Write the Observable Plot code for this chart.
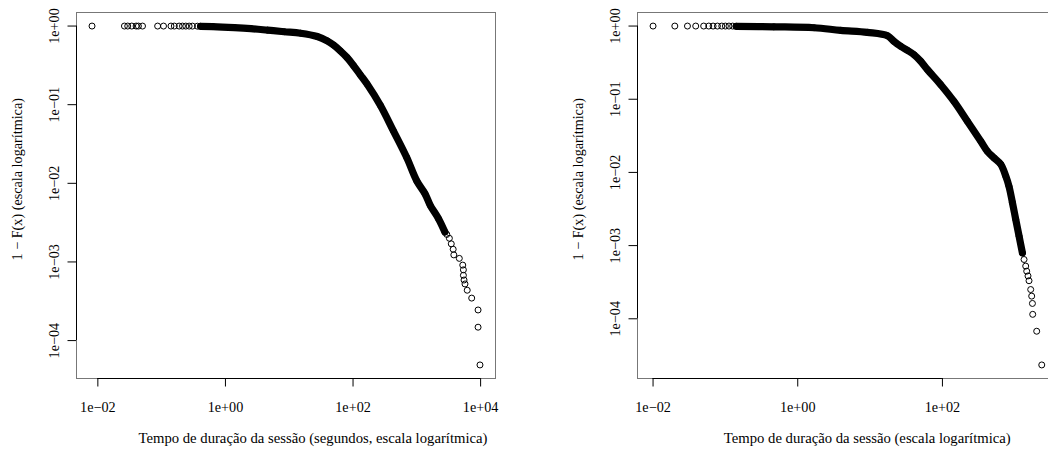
<!DOCTYPE html>
<html><head><meta charset="utf-8">
<script src="https://cdn.jsdelivr.net/npm/d3@7"></script>
<script src="https://cdn.jsdelivr.net/npm/@observablehq/plot@0.6"></script>
<style>
html,body{margin:0;padding:0;background:#fff;overflow:hidden;width:1048px;height:454px}
#wrap{display:flex;width:1100px}
#wrap svg{display:block;flex:none}
</style></head><body><div id="wrap"></div>
<script>
// ---------- Left panel: session duration (seconds) ----------
const leftTopX = [0.0081, 0.0261, 0.0294, 0.034, 0.0398, 0.0432, 0.0501, 0.0865, 0.107, 0.14, 0.158, 0.188, 0.212, 0.239, 0.27, 0.304, 0.363];
const leftTopY = [0.99995, 0.9999, 0.9999, 0.9998, 0.9998, 0.9997, 0.9997, 0.9996, 0.9995, 0.9994, 0.9993, 0.9992, 0.999, 0.9988, 0.9985, 0.998, 0.996];
const leftBandX = [0.407, 0.631, 1.38, 2.51, 4.57, 8.32, 15.1, 27.5, 39.3, 49.8, 63.1, 80.5, 102, 130, 166, 269, 427, 692, 1000, 1349, 1622, 2188, 2754];
const leftBandY = [0.993, 0.986, 0.957, 0.927, 0.887, 0.847, 0.811, 0.736, 0.649, 0.571, 0.484, 0.398, 0.313, 0.24, 0.183, 0.0977, 0.0468, 0.0214, 0.0107, 0.00733, 0.00525, 0.00355, 0.0024];
const leftTailX = [2951, 3236, 3467, 3715, 3802, 4634, 5248, 5370, 5370, 5495, 5689, 6166, 7244, 9120, 9120, 9772];
const leftTailY = [0.00224, 0.002, 0.0017, 0.00145, 0.00123, 0.00111, 0.000912, 0.000794, 0.000676, 0.000589, 0.000525, 0.000437, 0.000347, 0.000245, 0.000148, 0.000049];

// ---------- Right panel ----------
const rightTopX = [0.01, 0.02, 0.0299, 0.0389, 0.0501, 0.0589, 0.0676, 0.0776, 0.0891, 0.1, 0.112, 0.126];
const rightTopY = [0.99998, 0.99995, 0.9999, 0.9999, 0.9998, 0.9998, 0.9997, 0.9997, 0.9996, 0.9995, 0.9994, 0.9992];
const rightBandX = [0.141, 0.468, 1.68, 3.93, 9.18, 17.4, 21.4, 26.5, 32.8, 40.5, 50.1, 62.1, 94.8, 144.5, 221, 339, 417, 516, 640, 750, 832, 927, 1030, 1146, 1276];
const rightBandY = [0.993, 0.977, 0.948, 0.873, 0.82, 0.738, 0.618, 0.528, 0.466, 0.406, 0.33, 0.254, 0.158, 0.0933, 0.0501, 0.0267, 0.0195, 0.0158, 0.0129, 0.00891, 0.00646, 0.00389, 0.00229, 0.00135, 0.000794];
const rightTailX = [1343, 1416, 1462, 1524, 1574, 1660, 1714, 1754, 1770, 2009, 2360];
const rightTailY = [0.000646, 0.000525, 0.000447, 0.000385, 0.000331, 0.000251, 0.000204, 0.000162, 0.000115, 0.0000676, 0.0000234];

// ---------- Ticks & labels ----------
const leftXTicks = [0.01, 1, 100, 10000];
const leftXLabels = ["1e\u221202", "1e+00", "1e+02", "1e+04"];
const rightXTicks = [0.01, 1, 100];
const rightXLabels = ["1e\u221202", "1e+00", "1e+02"];
const yTicks = [1, 0.1, 0.01, 0.001, 0.0001];
const yLabels = ["1e+00", "1e\u221201", "1e\u221202", "1e\u221203", "1e\u221204"];
const leftXTitle = "Tempo de duração da sessão (segundos, escala logarítmica)";
const rightXTitle = "Tempo de duração da sessão (escala logarítmica)";
const yTitle = "1 \u2212 F(x) (escala logarítmica)";

const FONT = "'Liberation Serif','Times New Roman',serif";
const zip = (xs, ys) => xs.map((x, i) => ({x, y: ys[i]}));
function expandLog(vals) {
  const [a, b] = d3.extent(vals.map(Math.log10));
  const p = (b - a) * 0.04;
  return [10 ** (a - p), 10 ** (b + p)];
}

function panel({topX, topY, bandX, bandY, tailX, tailY, xTicks, xLabels, xTitle, width, marginLeft, marginRight, titleDx}) {
  const band = zip(bandX, bandY);
  const all = [...zip(topX, topY), ...band, ...zip(tailX, tailY)];
  const xd = expandLog(all.map(d => d.x));
  const yd = expandLog(all.map(d => d.y));
  const xl = new Map(xTicks.map((t, i) => [t, xLabels[i]]));
  const yl = new Map(yTicks.map((t, i) => [t, yLabels[i]]));
  return Plot.plot({
    width, height: 454, marginLeft, marginRight, marginTop: 12, marginBottom: 76,
    x: {type: "log", domain: xd},
    y: {type: "log", domain: yd},
    style: {fontFamily: FONT, fontSize: "14.2px", color: "#000", background: "#fff", overflow: "visible"},
    marks: [
      Plot.frame({stroke: "#777"}),
      Plot.ruleY([yd[0]], {x1: xTicks[0], x2: xTicks[xTicks.length - 1], stroke: "#000"}),
      Plot.ruleX([xd[0]], {y1: yTicks[yTicks.length - 1], y2: yTicks[0], stroke: "#000"}),
      Plot.axisX(xTicks, {tickSize: 8.5, tickPadding: 14.6, tickFormat: d => xl.get(d), fontSize: 14.2, fontFamily: FONT, label: null, stroke: "#000"}),
      Plot.axisY(yTicks, {tickSize: 8.5, tickPadding: 8.7, tickRotate: -90, tickFormat: d => yl.get(d), fontSize: 14.2, fontFamily: FONT, label: null, stroke: "#000"}),
      Plot.line(band, {x: "x", y: "y", stroke: "#000", strokeWidth: 7.2, curve: "catmull-rom", strokeLinejoin: "round", strokeLinecap: "round"}),
      Plot.dot(all, {x: "x", y: "y", r: 3, stroke: "#000", strokeWidth: 1, fill: "none"}),
      Plot.text([xTitle], {text: d => d, frameAnchor: "bottom-left", dx: titleDx, dy: 60, textAnchor: "start", lineAnchor: "middle", fontSize: 14.7, fontFamily: FONT}),
      Plot.text([yTitle], {text: d => d, frameAnchor: "top-left", rotate: -90, dx: -59.5, dy: 248, textAnchor: "start", lineAnchor: "middle", fontSize: 14.2, fontFamily: FONT})
    ]
  });
}

const wrap = document.getElementById("wrap");
wrap.append(panel({topX: leftTopX, topY: leftTopY, bandX: leftBandX, bandY: leftBandY, tailX: leftTailX, tailY: leftTailY,
  xTicks: leftXTicks, xLabels: leftXLabels, xTitle: leftXTitle, width: 524, marginLeft: 76, marginRight: 29, titleDx: 62}));
wrap.append(panel({topX: rightTopX, topY: rightTopY, bandX: rightBandX, bandY: rightBandY, tailX: rightTailX, tailY: rightTailY,
  xTicks: rightXTicks, xLabels: rightXLabels, xTitle: rightXTitle, width: 540, marginLeft: 113, marginRight: 7.2, titleDx: 86.3}));
</script></body></html>
